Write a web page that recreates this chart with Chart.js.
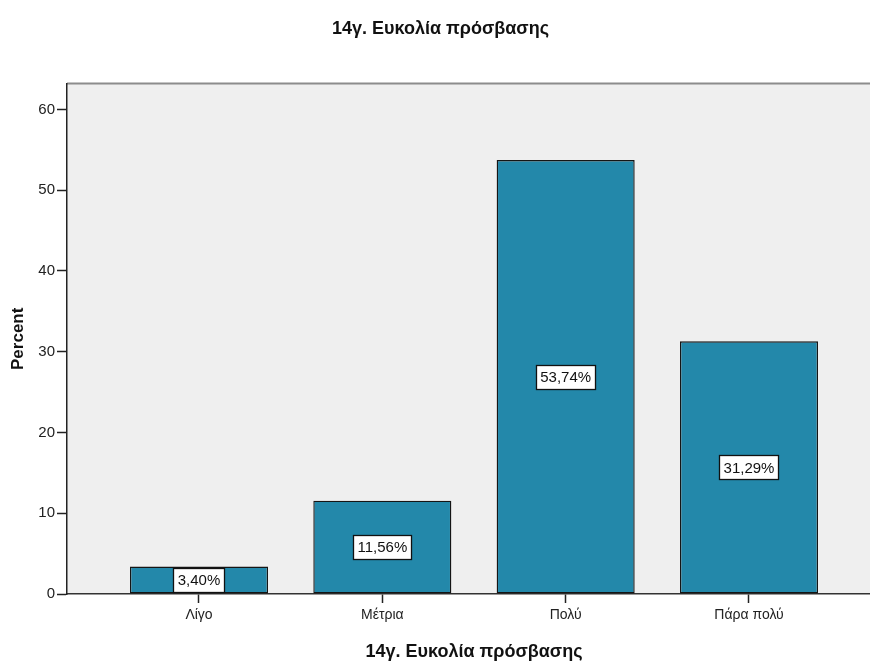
<!DOCTYPE html>
<html>
<head>
<meta charset="utf-8">
<script src="https://cdn.jsdelivr.net/npm/chart.js@4.4.1/dist/chart.umd.min.js"></script>
<style>
    html, body { margin: 0; padding: 0; background: #fff; overflow: hidden; }
    #wrap { width: 882px; height: 664px; }
</style>
</head>
<body>
<div id="wrap"><canvas id="chart" width="882" height="664"></canvas></div>
<script>
const categories = ['Λίγο', 'Μέτρια', 'Πολύ', 'Πάρα πολύ'];
const percents = [3.40, 11.56, 53.74, 31.29];
const yTicks = [0, 10, 20, 30, 40, 50, 60];
const chartTitle = '14γ. Ευκολία πρόσβασης';
const xTitle = '14γ. Ευκολία πρόσβασης';
const yTitle = 'Percent';

const FONT = "'Liberation Sans', Arial, sans-serif";
const BAR_COLOR = '#2388AA';
const PLOT_BG = '#EFEFEF';

const plotBackground = {
    id: 'plotBackground',
    beforeDraw(chart) {
        const { ctx, chartArea: { left, top, right, bottom } } = chart;
        ctx.save();
        ctx.fillStyle = PLOT_BG;
        ctx.fillRect(left, top, right - left, bottom - top);
        ctx.strokeStyle = '#8C8C8C';
        ctx.lineWidth = 2;
        ctx.beginPath();
        ctx.moveTo(left, top);
        ctx.lineTo(right, top);
        ctx.lineTo(right, bottom);
        ctx.stroke();
        ctx.restore();
    }
};

const valueBoxes = {
    id: 'valueBoxes',
    afterDatasetsDraw(chart) {
        const { ctx } = chart;
        const meta = chart.getDatasetMeta(0);
        ctx.save();
        ctx.font = `15px ${FONT}`;
        ctx.textAlign = 'center';
        ctx.textBaseline = 'middle';
        meta.data.forEach((bar, i) => {
            const text = percents[i].toFixed(2).replace('.', ',') + '%';
            const cy = (bar.y + bar.base) / 2;
            const w = Math.round(ctx.measureText(text).width + 8);
            const h = 24;
            const x0 = Math.round(bar.x - w / 2) + 0.5;
            const y0 = Math.round(cy - h / 2) + 0.5;
            ctx.fillStyle = '#fff';
            ctx.fillRect(x0, y0, w, h);
            ctx.strokeStyle = '#111';
            ctx.lineWidth = 1.3;
            ctx.strokeRect(x0, y0, w, h);
            ctx.fillStyle = '#111';
            ctx.fillText(text, bar.x, cy + 1);
        });
        ctx.restore();
    }
};

new Chart(document.getElementById('chart'), {
    type: 'bar',
    data: {
        datasets: [{
            data: percents.map((v, i) => ({ x: i, y: v })),
            backgroundColor: BAR_COLOR,
            borderColor: '#151515',
            borderWidth: 1.4,
            borderSkipped: false,
            barPercentage: 0.753,
            categoryPercentage: 1,
        }]
    },
    options: {
        responsive: false,
        animation: false,
        layout: { padding: { top: 0, right: 1, bottom: 0, left: 0 } },
        plugins: {
            legend: { display: false },
            tooltip: { enabled: false },
            title: {
                display: true,
                text: chartTitle,
                color: '#111',
                font: { family: FONT, size: 18, weight: 'bold' },
                padding: { top: 18, bottom: 44 },
            },
        },
        scales: {
            x: {
                type: 'linear',
                offset: false,
                min: -0.72,
                max: 3.72,
                afterBuildTicks(scale) {
                    scale.ticks = categories.map((_, i) => ({ value: i }));
                },
                afterFit(scale) { scale.height = 70; },
                ticks: {
                    autoSkip: false,
                    maxRotation: 0,
                    padding: 4,
                    color: '#222',
                    font: { family: FONT, size: 14 },
                    callback: (v) => categories[v] ?? '',
                },
                grid: {
                    offset: false,
                    drawOnChartArea: false,
                    drawTicks: true,
                    tickLength: 9,
                    tickWidth: 1.5,
                    tickColor: '#222',
                },
                border: { color: '#333', width: 1.5 },
                title: {
                    display: true,
                    text: xTitle,
                    color: '#111',
                    font: { family: FONT, size: 18, weight: 'bold' },
                    padding: { top: 7, bottom: 1 },
                },
            },
            y: {
                min: 0,
                max: 63.2,
                afterBuildTicks(scale) {
                    scale.ticks = yTicks.map((v) => ({ value: v }));
                },
                afterFit(scale) { scale.width = 67; },
                ticks: {
                    padding: 2,
                    color: '#222',
                    font: { family: FONT, size: 15 },
                },
                grid: {
                    drawOnChartArea: false,
                    drawTicks: true,
                    tickLength: 10,
                    tickWidth: 1.5,
                    tickColor: '#222',
                },
                border: { color: '#222', width: 1.5 },
                title: {
                    display: true,
                    text: yTitle,
                    color: '#111',
                    font: { family: FONT, size: 17, weight: 'bold' },
                    padding: { top: 8, bottom: 0 },
                },
            },
        },
    },
    plugins: [plotBackground, valueBoxes],
});
</script>
</body>
</html>
